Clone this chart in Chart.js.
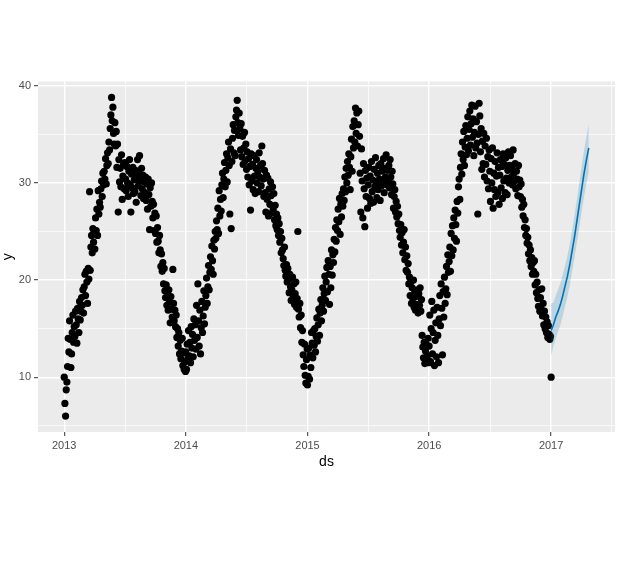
<!DOCTYPE html>
<html>
<head>
<meta charset="utf-8">
<script src="https://cdn.jsdelivr.net/npm/chart.js@4.4.1/dist/chart.umd.min.js"></script>
<style>
  body { margin: 0; background: #fff; }
  canvas { display: block; }
</style>
</head>
<body>
<canvas id="chart" width="619" height="568"></canvas>
<script>
const temp2013 = [
  10.0, 7.3, 6.0, 8.7, 9.5, 11.1, 14.0, 12.6, 15.8, 13.9, 11.0, 12.4, 14.6, 16.4, 13.6, 15.2,
  14.2, 16.8, 15.4, 13.5, 17.1, 16.0, 14.6, 17.8, 15.9, 16.8, 18.2, 17.4, 19.0, 16.6,
  19.3, 20.6, 18.4, 20.9, 19.8, 17.6, 21.2, 20.1, 29.1, 21.0, 23.4, 24.6, 22.8, 25.3, 23.9,
  25.0, 23.2, 26.4, 25.1, 27.3, 24.6, 29.2, 26.8, 28.0, 27.5, 29.4, 30.2, 28.6, 31.0, 29.8,
  31.2, 30.4, 32.5, 29.9, 31.8, 33.1, 32.0, 34.2, 33.4, 35.6, 37.0, 38.8, 36.4, 37.8, 35.1, 34.0,
  36.2, 33.8, 35.3, 31.6, 34.0, 27.0, 32.4, 30.1, 31.5, 29.6, 32.9, 28.3, 30.7, 31.9, 29.4,
  32.1, 30.4, 29.2, 31.7, 30.0, 28.6, 31.2, 32.4, 29.8, 27.0, 30.9, 29.5, 31.6, 28.9, 30.3,
  29.1, 31.3, 28.0, 30.6, 32.4, 29.7, 31.0, 32.8, 30.2, 28.7, 31.5, 29.4, 30.8, 28.4, 30.1, 29.0,
  30.6, 28.2, 29.9, 27.3, 30.4, 28.8, 25.2, 29.5, 27.6, 30.0, 28.1, 26.4, 27.8, 25.1, 26.9,
  24.8, 26.6, 23.9, 25.4, 24.0, 22.8, 24.6, 23.1, 21.4, 22.7, 20.9, 21.8, 19.6, 21.2, 18.9,
  18.2, 19.5, 17.4, 18.8, 16.9, 19.0, 17.8, 15.6, 18.3, 17.0, 16.2, 21.1, 17.6, 15.8, 16.9,
  15.2, 16.4, 14.1, 15.0, 13.2, 14.6, 12.4, 13.8, 11.9, 12.7, 14.0, 11.2, 12.5, 10.8, 11.6, 10.6
];
const temp2014 = [
  12.6, 10.8, 13.4, 11.9, 14.8, 12.2, 13.6, 11.5, 15.2, 13.0, 14.4, 12.1, 16.0, 13.8, 15.4, 12.9,
  17.4, 14.1, 19.6, 15.8, 13.2, 16.9, 12.4, 15.1, 17.8, 14.6, 16.3, 18.9, 15.5, 17.2,
  18.4, 20.2, 17.6, 19.3, 21.5, 19.0, 20.8, 22.4, 21.1, 23.5, 22.0, 20.6, 24.1, 23.2, 25.0,
  24.3, 26.1, 25.2, 27.4, 24.8, 29.2, 26.6, 28.3, 27.1, 29.8, 31.0, 28.5, 30.4, 32.1, 29.6,
  31.3, 33.0, 30.1, 32.6, 34.2, 31.8, 26.8, 33.5, 25.3, 32.2, 34.6, 36.0, 33.1, 35.4, 32.8, 36.8,
  37.5, 38.5, 36.2, 34.9, 37.2, 35.6, 33.4, 36.1, 32.7, 34.8, 31.9, 33.6, 35.2, 32.3, 34.0,
  31.4, 33.2, 30.6, 32.5, 29.8, 31.7, 27.2, 33.0, 30.2, 31.9, 29.3, 32.8, 30.7, 28.9, 31.5,
  32.4, 30.0, 31.2, 29.1, 33.1, 30.6, 31.8, 29.7, 33.8, 32.0, 30.4, 28.6, 31.3, 29.0, 27.0, 30.8,
  28.3, 30.5, 26.6, 29.4, 27.8, 30.1, 28.7, 26.9, 29.6, 27.3, 28.9, 26.2, 27.7, 25.6, 26.8,
  25.2, 26.4, 24.6, 25.8, 23.9, 25.0, 22.8, 24.3, 23.1, 22.2, 21.5, 23.4, 21.0, 20.4, 21.6,
  19.8, 21.2, 20.1, 18.7, 20.6, 19.3, 17.9, 19.0, 20.3, 18.2, 19.6, 17.5, 18.6, 19.8, 17.2,
  18.1, 25.0, 17.0, 16.2, 17.6, 15.1, 16.4, 13.6, 14.8, 12.3, 11.1, 13.4, 10.2, 9.4, 11.8, 12.9
];
const temp2015 = [
  9.2, 10.1, 13.0, 9.8, 12.3, 11.0, 14.6, 13.5, 12.0, 14.8, 13.3, 15.0, 12.6, 14.2, 16.1, 13.7,
  15.4, 17.0, 14.3, 16.6, 18.0, 15.8, 17.4, 19.2, 16.8, 18.6, 20.4, 17.9, 19.8, 21.3,
  18.8, 22.0, 20.6, 17.5, 21.4, 19.2, 23.1, 20.5, 22.6, 21.8, 24.2, 22.9, 25.4, 24.0, 26.2,
  25.1, 27.3, 26.0, 28.4, 24.7, 27.8, 26.5, 28.9, 27.6, 29.4, 28.2, 30.6, 29.1, 31.5, 30.0,
  32.2, 30.8, 33.0, 31.6, 29.3, 32.7, 34.5, 31.2, 35.8, 33.6, 36.4, 34.2, 37.7, 35.1, 37.2, 33.8,
  36.0, 37.4, 34.8, 31.0, 27.0, 33.5, 30.2, 26.4, 32.0, 29.4, 25.5, 31.3, 28.6, 30.5, 27.4,
  29.8, 31.6, 28.4, 30.7, 27.9, 32.2, 29.1, 30.3, 28.0, 31.4, 29.6, 32.6, 30.0, 28.5, 31.0,
  29.3, 31.8, 30.4, 28.2, 32.0, 29.7, 31.2, 30.1, 32.5, 29.0, 31.5, 30.6, 32.9, 29.8, 31.3, 30.2,
  31.8, 29.5, 32.4, 30.6, 28.8, 31.2, 29.9, 27.4, 28.6, 29.3, 27.0, 28.1, 26.5, 27.6, 25.8,
  26.8, 25.1, 24.4, 25.7, 23.6, 24.9, 22.8, 23.9, 25.2, 22.1, 23.4, 21.0, 22.5, 20.8, 21.7,
  19.6, 20.3, 18.4, 19.8, 17.6, 19.2, 18.1, 20.0, 17.2, 18.8, 16.9, 18.3, 17.5, 19.0, 16.6,
  18.6, 17.4, 19.2, 16.8, 18.0, 14.3, 13.1, 12.0, 13.6, 11.4, 12.7, 11.8, 13.3, 12.2, 14.0, 11.5
];
const temp2016 = [
  13.2, 16.4, 11.6, 15.0, 17.8, 12.4, 14.6, 16.9, 11.2, 13.8, 15.6, 12.1, 17.2, 14.3, 11.5, 16.0,
  18.4, 15.3, 19.6, 17.1, 12.3, 18.8, 16.2, 20.3, 17.6, 19.1, 21.4, 18.5, 22.6, 20.8,
  21.9, 23.4, 20.9, 24.8, 22.5, 25.6, 23.1, 26.4, 24.3, 27.2, 25.7, 24.0, 28.1, 26.9, 29.6,
  30.4, 28.3, 31.6, 33.0, 30.9, 34.2, 32.4, 35.3, 31.8, 33.7, 35.9, 32.9, 34.6, 36.8, 33.3,
  35.5, 37.4, 33.9, 36.1, 38.0, 34.7, 36.6, 32.8, 35.2, 37.9, 33.6, 36.3, 34.1, 26.8, 35.0, 38.2,
  36.9, 33.2, 35.6, 31.4, 34.3, 32.0, 35.1, 30.6, 33.8, 31.9, 34.6, 30.2, 32.7, 29.4, 33.4,
  31.2, 28.1, 32.5, 30.0, 33.6, 27.4, 31.0, 29.3, 32.2, 28.6, 30.7, 33.1, 29.0, 31.6, 27.8,
  30.8, 32.4, 29.5, 31.7, 28.4, 33.0, 30.2, 31.9, 29.0, 32.6, 30.5, 28.8, 31.3, 33.2, 30.0, 31.8,
  32.8, 30.6, 31.5, 29.8, 33.4, 31.0, 30.2, 32.0, 29.4, 31.2, 30.4, 28.7, 31.8, 29.6, 30.3,
  28.6, 29.9, 27.5, 28.3, 26.6, 27.8, 25.4, 26.2, 24.6, 25.3, 23.8, 24.4, 22.7, 23.6, 22.0,
  23.1, 21.4, 22.3, 20.6, 21.8, 20.9, 22.0, 19.5, 20.6, 18.7, 19.8, 18.1, 17.3, 19.0, 16.8,
  18.2, 17.0, 19.1, 16.3, 17.6, 15.4, 16.8, 15.0, 16.2, 14.6, 15.7, 14.1, 15.3, 14.4, 13.9, 14.2
];
const lastObs = 10.0; // 2017-01-01

// days since 2013-01-01
const yearStarts = [0, 365, 730, 1095];
const lastObsDay = 1461;
const yearTicks = [0, 365, 730, 1095, 1461];
const yearLabels = ['2013', '2014', '2015', '2016', '2017'];
const halfYearTicks = [182.5, 547.5, 912.5, 1278, 1643.5];
const yTicks = [10, 20, 30, 40];
const yMinorTicks = [5, 15, 25, 35];

// forecast after 2017-01-01 (days from lastObsDay)
const fcDays  = [0, 7, 14, 21, 28, 35, 42, 49, 56, 63, 70, 77, 84, 91, 98, 105, 113];
const fcYhat  = [14.8, 15.4, 16.2, 16.8, 17.5, 18.4, 19.4, 20.4, 21.6, 23.0, 24.4, 26.0, 27.6, 29.2, 30.8, 32.2, 33.6];
const fcLower = [12.2, 13.2, 14.0, 14.7, 15.4, 16.3, 17.3, 18.3, 19.5, 20.9, 22.3, 23.8, 25.3, 26.9, 28.4, 29.8, 31.1];
const fcUpper = [17.6, 17.7, 18.4, 19.0, 19.7, 20.6, 21.5, 22.5, 23.7, 25.1, 26.6, 28.2, 29.9, 31.5, 33.2, 34.6, 36.1];

const points = [];
[temp2013, temp2014, temp2015, temp2016].forEach((arr, k) => {
  arr.forEach((v, i) => points.push({ x: yearStarts[k] + 2 * i, y: v }));
});
points.push({ x: lastObsDay, y: lastObs });

const fcPts = arr => arr.map((v, i) => ({ x: lastObsDay + fcDays[i], y: v }));

const panelBg = {
  id: 'panelBg',
  beforeDraw(chart) {
    const { ctx, chartArea: a } = chart;
    ctx.save();
    ctx.fillStyle = '#EBEBEB';
    ctx.fillRect(a.left, a.top, a.right - a.left, a.bottom - a.top);
    ctx.restore();
  }
};

const font = 'Liberation Sans';
const isMajorX = v => yearTicks.indexOf(v) >= 0;
const isMajorY = v => yTicks.indexOf(v) >= 0;

new Chart(document.getElementById('chart'), {
  type: 'scatter',
  data: {
    datasets: [{
      label: 'yhat',
      type: 'line',
      data: fcPts(fcYhat),
      borderColor: '#0072B2',
      borderWidth: 1.6,
      pointRadius: 0,
      fill: false,
      order: 0
    }, {
      label: 'upper',
      type: 'line',
      data: fcPts(fcUpper),
      borderWidth: 0,
      pointRadius: 0,
      backgroundColor: 'rgba(0,114,178,0.2)',
      fill: '+1',
      order: 1
    }, {
      label: 'lower',
      type: 'line',
      data: fcPts(fcLower),
      borderWidth: 0,
      pointRadius: 0,
      fill: false,
      order: 1
    }, {
      label: 'y',
      data: points,
      backgroundColor: '#000000',
      borderWidth: 0,
      pointRadius: 3.6,
      order: 2
    }]
  },
  options: {
    responsive: false,
    animation: false,
    events: [],
    layout: { padding: { top: 81.5, right: 3, bottom: 96, left: 0 } },
    plugins: { legend: { display: false }, tooltip: { enabled: false } },
    scales: {
      x: {
        type: 'linear',
        min: -78.7,
        max: 1652.7,
        afterBuildTicks: s => {
          s.ticks = yearTicks.concat(halfYearTicks).sort((a, b) => a - b).map(v => ({ value: v }));
        },
        afterFit: s => { s.height = 40; },
        border: { display: false },
        grid: {
          color: '#FFFFFF',
          lineWidth: c => isMajorX(c.tick.value) ? 1.4 : 0.7,
          tickColor: c => isMajorX(c.tick.value) ? '#333333' : 'rgba(0,0,0,0)',
          tickLength: 4,
          tickWidth: 1
        },
        ticks: {
          autoSkip: false,
          maxRotation: 0,
          padding: 3,
          color: '#4D4D4D',
          font: { family: font, size: 11 },
          callback: v => isMajorX(v) ? yearLabels[yearTicks.indexOf(v)] : ''
        },
        title: { display: true, text: 'ds', color: '#000000', font: { family: font, size: 14 }, padding: { top: 0, bottom: 1 } }
      },
      y: {
        type: 'linear',
        min: 4.36,
        max: 40.44,
        afterBuildTicks: s => {
          s.ticks = yTicks.concat(yMinorTicks).sort((a, b) => a - b).map(v => ({ value: v }));
        },
        afterFit: s => { s.width = 38; },
        border: { display: false },
        grid: {
          color: '#FFFFFF',
          lineWidth: c => isMajorY(c.tick.value) ? 1.4 : 0.7,
          tickColor: c => isMajorY(c.tick.value) ? '#333333' : 'rgba(0,0,0,0)',
          tickLength: 4,
          tickWidth: 1
        },
        ticks: {
          autoSkip: false,
          padding: 3,
          color: '#4D4D4D',
          font: { family: font, size: 11 },
          callback: v => isMajorY(v) ? String(v) : ''
        },
        title: { display: true, text: 'y', color: '#000000', font: { family: font, size: 14 }, padding: { top: 0, bottom: 0 } }
      }
    }
  },
  plugins: [panelBg]
});
</script>
</body>
</html>
